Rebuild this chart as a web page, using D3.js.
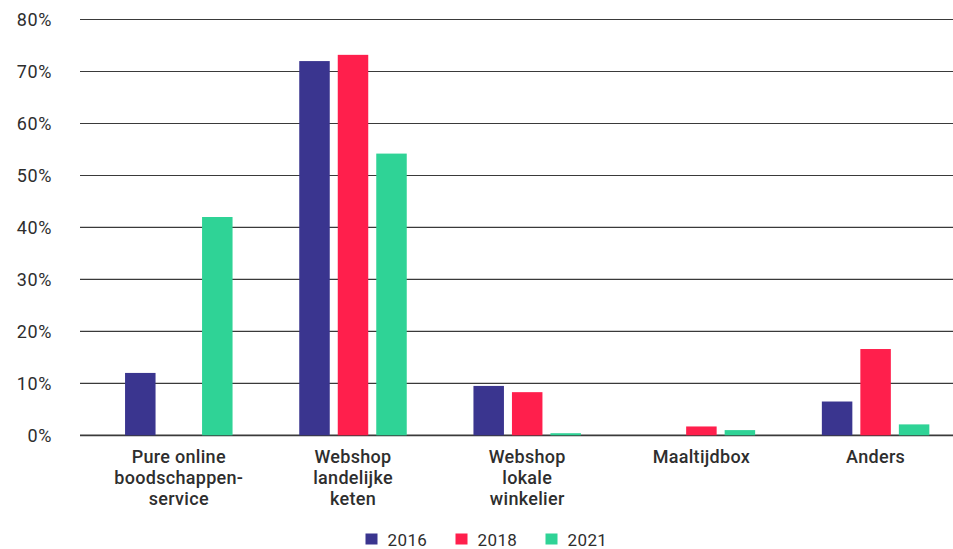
<!DOCTYPE html>
<html>
<head>
<meta charset="utf-8">
<script src="https://cdn.jsdelivr.net/npm/d3@7"></script>
<style>
  html, body { margin: 0; padding: 0; background: #fff; }
  svg { display: block; }
  text { font-family: Roboto, "Noto Sans", sans-serif; fill: #2e2e2e; }
</style>
</head>
<body>
<svg id="chart" width="953" height="549"></svg>
<script>
const categories = [
  ["Pure online", "boodschappen-", "service"],
  ["Webshop", "landelijke", "keten"],
  ["Webshop", "lokale", "winkelier"],
  ["Maaltijdbox"],
  ["Anders"]
];
const years = ["2016", "2018", "2021"];
const values2016 = [12, 72, 9.5, 0, 6.5];
const values2018 = [0, 73.2, 8.3, 1.7, 16.6];
const values2021 = [42, 54.2, 0.4, 1.0, 2.1];
const yTicks = [0, 10, 20, 30, 40, 50, 60, 70, 80];
const colors = ["#3a358f", "#ff1f4c", "#2fd396"];

const series = [values2016, values2018, values2021];
const svg = d3.select("#chart");

const x0 = d3.scaleBand().domain(d3.range(categories.length)).range([91.7, 962.7]).padding(0);
const x1 = d3.scaleBand().domain(years).range([-53.75, 53.75]).paddingInner(0.208).paddingOuter(0);
const y = d3.scaleLinear().domain([0, 80]).range([435.3, 19.5]);

// gridlines
const grid = svg.append("g");
grid.selectAll("line").data(yTicks).join("line")
  .attr("x1", 80).attr("x2", 953)
  .attr("y1", d => y(d)).attr("y2", d => y(d))
  .attr("stroke", "#3a3a3a")
  .attr("stroke-width", d => d === 0 ? 1.8 : 1.1);

// y axis labels
const yAxis = d3.axisLeft(y).tickValues(yTicks).tickFormat(d => d + "%").tickSize(0).tickPadding(0);
const ya = svg.append("g").attr("transform", "translate(52,0)").call(yAxis);
ya.select(".domain").remove();
ya.selectAll("text").attr("font-size", 18).attr("letter-spacing", 0.6)
  .attr("font-family", "Roboto, sans-serif").attr("fill", "#2e2e2e");

// bars
const groups = svg.append("g").selectAll("g").data(categories).join("g")
  .attr("transform", (d, i) => `translate(${x0(i) + x0.bandwidth() / 2},0)`);
groups.each(function(c, i) {
  d3.select(this).selectAll("rect").data(years.map((yr, k) => ({yr, v: series[k][i], k})))
    .join("rect")
    .filter(d => d.v > 0)
    .attr("x", d => x1(d.yr))
    .attr("width", x1.bandwidth())
    .attr("y", d => y(d.v))
    .attr("height", d => y(0) - y(d.v))
    .attr("fill", d => colors[d.k]);
});

// category labels
const xAxis = d3.axisBottom(d3.scaleBand().domain(d3.range(categories.length)).range(x0.range())).tickSize(0).tickFormat("");
const xa = svg.append("g").attr("transform", "translate(0,435)").call(xAxis);
xa.select(".domain").remove();
xa.selectAll(".tick").each(function(i) {
  const t = d3.select(this).append("text")
    .attr("text-anchor", "middle")
    .attr("font-size", 18)
    .attr("font-weight", 500)
    .attr("letter-spacing", 0.3)
    .attr("fill", "#2e2e2e");
  categories[i].forEach((line, j) => {
    t.append("tspan").attr("x", 0).attr("y", 28 + j * 21).text(line);
  });
});

// legend
const legendX = [365.5, 455.5, 545.5];
const lg = svg.append("g").selectAll("g").data(years).join("g")
  .attr("transform", (d, i) => `translate(${legendX[i]},533.5)`);
lg.append("rect").attr("width", 12).attr("height", 11).attr("fill", (d, i) => colors[i]);
lg.append("text").attr("x", 22).attr("y", 12).attr("font-size", 17).attr("letter-spacing", 0.4).text(d => d);
</script>
</body>
</html>
